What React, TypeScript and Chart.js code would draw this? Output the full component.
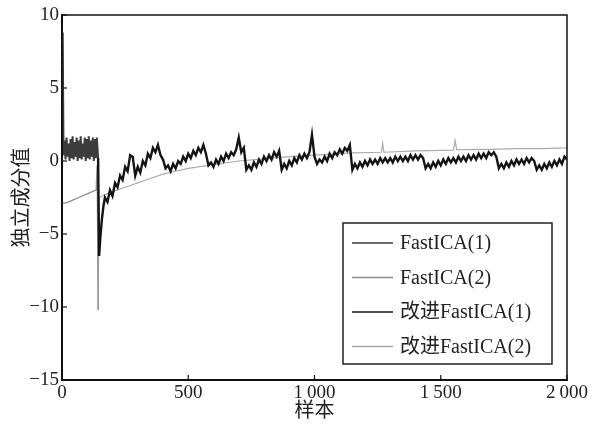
import React, { useEffect, useRef } from "react";
import { Chart, registerables } from "chart.js";
Chart.register(...registerables);

const seriesNames = ["FastICA(1)", "FastICA(2)", "改进FastICA(1)", "改进FastICA(2)"];
const seriesColors = ["#3c3c3c", "#8a8a8a", "#141414", "#ababab"];
const seriesWidths = [2, 1.2, 2.4, 1.2];
const xTickValues = [0, 500, 1000, 1500, 2000];
const xTickLabels = ["0", "500", "1\u2009000", "1\u2009500", "2\u2009000"];
const yTickValues = [-15, -10, -5, 0, 5, 10];
const yTickLabels = ["\u221215", "\u221210", "\u22125", "0", "5", "10"];
const xTitle = "样本";
const yTitle = "独立成分值";

const fastica1: [number, number][] = [
  [0, 8.8], [3, 8.6], [6, 0.4], [10, 1.4], [14, 0.1], [18, 1.6], [22, 0.3], [26, 1.2], [30, 0.0],
  [34, 1.5], [38, 0.2], [42, 1.7], [46, 0.1], [50, 1.3], [54, 0.3], [58, 1.6], [62, 0.0],
  [66, 1.4], [70, 0.2], [74, 1.7], [78, 0.1], [82, 1.2], [86, 0.3], [90, 1.6], [94, 0.0],
  [98, 1.5], [102, 0.2], [106, 1.7], [110, 0.1], [114, 1.4], [118, 0.3], [122, 1.6], [126, 0.0],
  [130, 1.5], [134, 0.2], [138, 1.6], [143, 0.2],
];

const fastica2: [number, number][] = [
  [0, -2.9], [20, -2.85], [40, -2.7], [60, -2.55], [80, -2.4], [100, -2.25], [120, -2.1],
  [135, -2.0], [139, -0.3], [143, -10.2],
];

const improved1: [number, number][] = [
  [143, 0.2], [147, -6.5], [152, -5.2], [158, -4.0], [164, -3.1],
  [170, -2.5], [180, -2.8], [190, -2.0], [200, -2.4], [210, -1.5], [220, -1.8], [230, -1.0],
  [240, -1.3], [250, -0.4], [260, -0.7], [270, 0.4], [280, 0.3], [290, -1.0], [300, -0.4],
  [310, -0.8], [320, 0.0], [330, -0.3], [340, 0.5], [350, 0.2], [360, 0.9], [370, 0.6],
  [380, 1.1], [390, 0.4], [400, 0.1], [410, -0.5], [420, -0.3], [430, -0.7], [440, -0.2],
  [450, -0.5], [460, 0.0], [470, -0.2], [480, 0.3], [490, 0.0], [500, 0.5], [510, 0.2],
  [520, 0.7], [530, 0.4], [540, 0.9], [550, 0.6], [560, 1.1], [570, 0.5], [580, -0.3],
  [590, -0.1], [600, -0.4], [610, 0.1], [620, -0.2], [630, 0.3], [640, 0.0], [650, 0.5],
  [660, 0.2], [670, 0.6], [680, 0.4], [690, 0.8], [700, 1.6], [710, 0.6], [720, 0.9],
  [730, -0.6], [740, -0.3], [750, -0.6], [760, -0.1], [770, -0.4], [780, 0.1], [790, -0.2],
  [800, 0.3], [810, 0.0], [820, 0.4], [830, 0.1], [840, 0.6], [850, 0.3], [860, 0.7],
  [870, -0.6], [880, -0.2], [890, -0.5], [900, 0.0], [910, -0.3], [920, 0.2], [930, -0.1],
  [940, 0.4], [950, 0.1], [960, 0.5], [970, 0.2], [980, 0.6], [990, 1.8], [1000, 0.3],
  [1010, -0.2], [1020, 0.1], [1030, -0.1], [1040, 0.3], [1050, 0.0], [1060, 0.5], [1070, 0.2],
  [1080, 0.6], [1090, 0.4], [1100, 0.8], [1110, 0.5], [1120, 0.9], [1130, 0.7], [1140, 1.1],
  [1150, -0.6], [1160, -0.2], [1170, -0.5], [1180, -0.1], [1190, -0.4], [1200, 0.0],
  [1210, -0.3], [1220, 0.1], [1230, -0.2], [1240, 0.1], [1250, -0.2], [1260, 0.2],
  [1270, -0.1], [1280, 0.2], [1290, -0.1], [1300, 0.2], [1310, -0.1], [1320, 0.3],
  [1330, 0.0], [1340, 0.3], [1350, 0.0], [1360, 0.3], [1370, 0.0], [1380, 0.4], [1390, 0.1],
  [1400, 0.4], [1410, 0.1], [1420, 0.4], [1430, 0.2], [1440, -0.5], [1450, -0.2],
  [1460, -0.5], [1470, -0.1], [1480, -0.4], [1490, 0.0], [1500, -0.3], [1510, 0.1],
  [1520, -0.2], [1530, 0.2], [1540, -0.1], [1550, 0.2], [1560, -0.1], [1570, 0.3],
  [1580, 0.0], [1590, 0.3], [1600, 0.0], [1610, 0.4], [1620, 0.1], [1630, 0.4], [1640, 0.1],
  [1650, 0.5], [1660, 0.2], [1670, 0.5], [1680, 0.2], [1690, 0.6], [1700, 0.4], [1710, 0.6],
  [1720, 0.3], [1730, -0.5], [1740, -0.2], [1750, -0.5], [1760, -0.1], [1770, -0.4],
  [1780, 0.0], [1790, -0.3], [1800, 0.1], [1810, -0.2], [1820, 0.1], [1830, -0.2],
  [1840, 0.2], [1850, -0.1], [1860, 0.2], [1870, 0.0], [1880, -0.6], [1890, -0.3],
  [1900, -0.6], [1910, -0.2], [1920, -0.5], [1930, -0.1], [1940, -0.4], [1950, 0.0],
  [1960, -0.3], [1970, 0.1], [1980, -0.2], [1990, 0.3], [2000, 0.1],
];

const improved2: [number, number][] = [
  [143, -10.2], [147, -2.5], [170, -2.3], [200, -2.1], [250, -1.8], [300, -1.5], [350, -1.2],
  [400, -0.9], [450, -0.7], [500, -0.5], [600, -0.25], [700, 0.0], [800, 0.15], [900, 0.3],
  [1000, 0.4], [1100, 0.5], [1150, 0.55], [1265, 0.6], [1270, 1.2], [1275, 0.6], [1400, 0.7],
  [1550, 0.75], [1557, 1.4], [1563, 0.78], [1700, 0.8], [1800, 0.85], [1900, 0.85],
  [1995, 0.9], [2000, 0.95],
];

const allSeries = [fastica1, fastica2, improved1, improved2];

const serif = "'Liberation Serif', 'Noto Sans CJK SC', serif";

const framePlugin = {
  id: "frame",
  afterDatasetsDraw(chart: any) {
    const { ctx, chartArea: a, scales } = chart;
    ctx.save();
    ctx.strokeStyle = "#111";
    ctx.lineWidth = 1.5;
    ctx.strokeRect(a.left, a.top, a.right - a.left, a.bottom - a.top);
    ctx.lineWidth = 1.2;
    xTickValues.forEach((v) => {
      const px = scales.x.getPixelForValue(v);
      ctx.beginPath();
      ctx.moveTo(px, a.bottom);
      ctx.lineTo(px, a.bottom - 5);
      ctx.stroke();
    });
    yTickValues.forEach((v) => {
      const py = scales.y.getPixelForValue(v);
      ctx.beginPath();
      ctx.moveTo(a.left, py);
      ctx.lineTo(a.left + 5, py);
      ctx.stroke();
    });
    // legend
    const bx = 343, by = 223, bw = 209, bh = 141;
    ctx.fillStyle = "#fff";
    ctx.fillRect(bx, by, bw, bh);
    ctx.strokeStyle = "#222";
    ctx.lineWidth = 1.5;
    ctx.strokeRect(bx, by, bw, bh);
    ctx.font = "20px " + serif;
    ctx.textBaseline = "middle";
    seriesNames.forEach((name, i) => {
      const y = by + 20 + i * 34.5;
      ctx.strokeStyle = seriesColors[i];
      ctx.lineWidth = 1.5;
      ctx.beginPath();
      ctx.moveTo(bx + 9, y);
      ctx.lineTo(bx + 50, y);
      ctx.stroke();
      ctx.fillStyle = "#222";
      ctx.fillText(name, bx + 57, y + 1);
    });
    ctx.restore();
  },
};

export default function App() {
  const ref = useRef<HTMLCanvasElement>(null);
  useEffect(() => {
    document.body.style.margin = "0";
    const chart = new Chart(ref.current!, {
      type: "line",
      data: {
        datasets: allSeries.map((s, i) => ({
          label: seriesNames[i],
          data: s.map(([x, y]) => ({ x, y })),
          borderColor: seriesColors[i],
          borderWidth: seriesWidths[i],
          pointRadius: 0,
          tension: 0,
          fill: false,
          borderJoinStyle: "miter" as const,
          order: i === 2 ? 0 : i === 0 ? 1 : 2,
        })),
      },
      options: {
        animation: false,
        responsive: false,
        layout: { padding: { top: 15, right: 25, left: 0, bottom: 0 } },
        plugins: { legend: { display: false }, tooltip: { enabled: false } },
        scales: {
          x: {
            type: "linear",
            min: 0,
            max: 2000,
            afterFit: (s: any) => { s.height = 44; },
            afterBuildTicks: (s: any) => { s.ticks = xTickValues.map((v) => ({ value: v })); },
            ticks: {
              callback: (v: any) => xTickLabels[xTickValues.indexOf(Number(v))] ?? "",
              font: { family: serif, size: 19 },
              color: "#222",
              padding: 2,
              maxRotation: 0,
            },
            grid: { display: false, drawTicks: false },
            border: { color: "#111", width: 2 },
            title: {
              display: true,
              text: xTitle,
              font: { family: serif, size: 20 },
              color: "#222",
              padding: { top: 0, bottom: 0 },
            },
          },
          y: {
            type: "linear",
            min: -15,
            max: 10,
            afterFit: (s: any) => { s.width = 62; },
            afterBuildTicks: (s: any) => { s.ticks = yTickValues.map((v) => ({ value: v })); },
            ticks: {
              callback: (v: any) => yTickLabels[yTickValues.indexOf(Number(v))] ?? "",
              font: { family: serif, size: 19 },
              color: "#222",
              padding: 3,
            },
            grid: { display: false, drawTicks: false },
            border: { color: "#111", width: 2 },
            title: {
              display: true,
              text: yTitle,
              font: { family: serif, size: 20 },
              color: "#222",
              padding: { top: 11, bottom: 0 },
            },
          },
        },
      },
      plugins: [framePlugin],
    });
    return () => chart.destroy();
  }, []);
  return (
    <div style={{ width: 592, height: 424 }}>
      <canvas ref={ref} width={592} height={424} style={{ display: "block" }} />
    </div>
  );
}
